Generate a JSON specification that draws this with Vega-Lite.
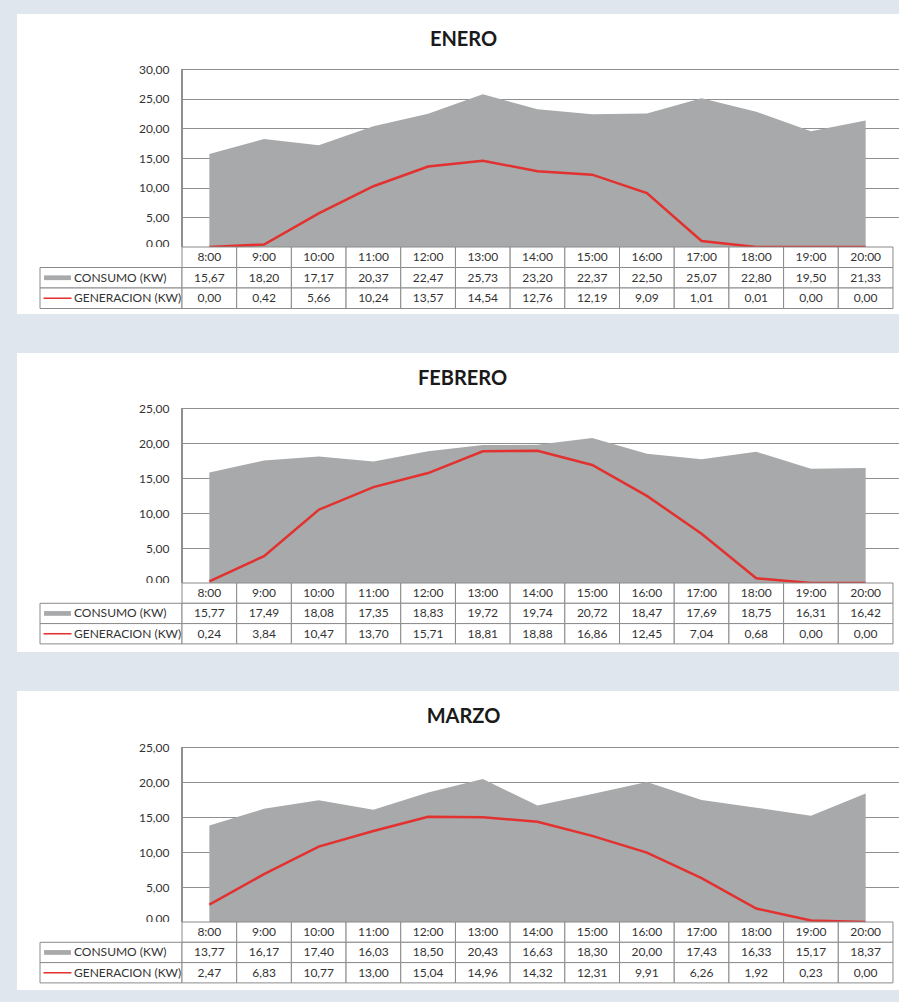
{
  "$schema": "https://vega.github.io/schema/vega-lite/v6.json",
  "background": "#dfe6ee",
  "padding": {"left": 17, "top": 14, "right": 0, "bottom": 12},
  "config": {
    "locale": {"number": {"decimal": ",", "thousands": ".", "grouping": [3], "currency": ["", " €"]}},
    "view": {"stroke": null},
    "font": "Lato"
  },
  "datasets": {
    "enero": [
      {"hora": "8:00", "consumo": 15.67, "generacion": 0.00},
      {"hora": "9:00", "consumo": 18.20, "generacion": 0.42},
      {"hora": "10:00", "consumo": 17.17, "generacion": 5.66},
      {"hora": "11:00", "consumo": 20.37, "generacion": 10.24},
      {"hora": "12:00", "consumo": 22.47, "generacion": 13.57},
      {"hora": "13:00", "consumo": 25.73, "generacion": 14.54},
      {"hora": "14:00", "consumo": 23.20, "generacion": 12.76},
      {"hora": "15:00", "consumo": 22.37, "generacion": 12.19},
      {"hora": "16:00", "consumo": 22.50, "generacion": 9.09},
      {"hora": "17:00", "consumo": 25.07, "generacion": 1.01},
      {"hora": "18:00", "consumo": 22.80, "generacion": 0.01},
      {"hora": "19:00", "consumo": 19.50, "generacion": 0.00},
      {"hora": "20:00", "consumo": 21.33, "generacion": 0.00}
    ],
    "febrero": [
      {"hora": "8:00", "consumo": 15.77, "generacion": 0.24},
      {"hora": "9:00", "consumo": 17.49, "generacion": 3.84},
      {"hora": "10:00", "consumo": 18.08, "generacion": 10.47},
      {"hora": "11:00", "consumo": 17.35, "generacion": 13.70},
      {"hora": "12:00", "consumo": 18.83, "generacion": 15.71},
      {"hora": "13:00", "consumo": 19.72, "generacion": 18.81},
      {"hora": "14:00", "consumo": 19.74, "generacion": 18.88},
      {"hora": "15:00", "consumo": 20.72, "generacion": 16.86},
      {"hora": "16:00", "consumo": 18.47, "generacion": 12.45},
      {"hora": "17:00", "consumo": 17.69, "generacion": 7.04},
      {"hora": "18:00", "consumo": 18.75, "generacion": 0.68},
      {"hora": "19:00", "consumo": 16.31, "generacion": 0.00},
      {"hora": "20:00", "consumo": 16.42, "generacion": 0.00}
    ],
    "marzo": [
      {"hora": "8:00", "consumo": 13.77, "generacion": 2.47},
      {"hora": "9:00", "consumo": 16.17, "generacion": 6.83},
      {"hora": "10:00", "consumo": 17.40, "generacion": 10.77},
      {"hora": "11:00", "consumo": 16.03, "generacion": 13.00},
      {"hora": "12:00", "consumo": 18.50, "generacion": 15.04},
      {"hora": "13:00", "consumo": 20.43, "generacion": 14.96},
      {"hora": "14:00", "consumo": 16.63, "generacion": 14.32},
      {"hora": "15:00", "consumo": 18.30, "generacion": 12.31},
      {"hora": "16:00", "consumo": 20.00, "generacion": 9.91},
      {"hora": "17:00", "consumo": 17.43, "generacion": 6.26},
      {"hora": "18:00", "consumo": 16.33, "generacion": 1.92},
      {"hora": "19:00", "consumo": 15.17, "generacion": 0.23},
      {"hora": "20:00", "consumo": 18.37, "generacion": 0.00}
    ],
    "leyenda": [
      {"k": "consumo", "label": "CONSUMO (KW)"},
      {"k": "generacion", "label": "GENERACION (KW)"}
    ]
  },
  "spacing": 39,
  "resolve": {"scale": {"x": "independent", "y": "independent", "color": "independent", "shape": "independent"}},
  "vconcat": [
    {
      "columns": 2, "spacing": 0, "bounds": "flush", "align": "each",
      "resolve": {"scale": {"x": "independent", "y": "independent", "color": "independent", "shape": "independent"}},
      "concat": [
        {"width": 165, "height": 233, "view": {"fill": "white", "stroke": null}, "data": {"values": []}, "mark": "point"},
        {
          "width": 717, "height": 233,
          "view": {"fill": "white", "stroke": null},
          "title": {"text": "ENERO", "frame": "group", "anchor": "middle", "orient": "top", "offset": -26, "dy": 20, "baseline": "middle", "dx": -77, "font": "Lato", "fontSize": 20, "fontWeight": "bold", "color": "#1a1a1a"},
          "data": {"name": "enero"},
          "encoding": {"x": {"field": "hora", "type": "ordinal", "sort": null, "bandPosition": 0.5, "scale": {"type": "band", "domain": ["8:00","9:00","10:00","11:00","12:00","13:00","14:00","15:00","16:00","17:00","18:00","19:00","20:00"], "paddingInner": 0, "paddingOuter": 0.055, "align": 0}, "axis": null}},
          "layer": [
            {"mark": {"type": "area", "color": "#a7a9aa", "opacity": 1}, "encoding": {"y": {"field": "consumo", "type": "quantitative", "scale": {"domain": [0, 39.27], "nice": false}, "axis": {"values": [0,5,10,15,20,25,30], "tickCount": 20, "format": ".2f", "title": null, "grid": true, "gridColor": "#8f8f8f", "gridWidth": 1, "domain": false, "ticks": false, "labelPadding": 13, "labelFont": "Lato", "labelFontSize": 12, "labelColor": "#333333", "labelBaseline": {"condition": {"test": "datum.value === 0", "value": "alphabetic"}, "value": "middle"}}}}},
            {"mark": {"type": "rule", "color": "#8f8f8f"}, "encoding": {"x": {"datum": "8:00", "bandPosition": 0}, "y": {"datum": 0}, "y2": {"datum": 30}}},
            {"mark": {"type": "line", "color": "#e2312f", "strokeWidth": 2.5}, "encoding": {"y": {"field": "generacion", "type": "quantitative"}}}
          ]
        },
        {
          "width": 165, "height": 67,
          "view": {"fill": "white", "stroke": null},
          "data": {"name": "leyenda"},
          "encoding": {
            "x": {"datum": "leg", "type": "nominal", "scale": {"type": "band", "domain": ["leg"], "paddingInner": 0, "paddingOuter": 0.081, "align": 1}, "axis": null},
            "y": {"field": "k", "type": "nominal", "scale": {"type": "band", "domain": ["h","consumo","generacion"], "paddingInner": 0, "paddingOuter": 0.134, "align": 0}, "axis": null}
          },
          "layer": [
            {"mark": {"type": "rect", "fill": "white", "stroke": "#8a8a8a", "strokeWidth": 1}},
            {"mark": {"type": "point", "filled": true, "opacity": 1, "size": 784, "xOffset": -53.5}, "encoding": {"shape": {"field": "k", "type": "nominal", "scale": {"domain": ["consumo","generacion"], "range": ["M-0.96,-0.17H0.96V0.17H-0.96Z", "M-1,-0.055H1V0.055H-1Z"]}, "legend": null}, "color": {"field": "k", "type": "nominal", "scale": {"domain": ["consumo","generacion"], "range": ["#a7a9aa", "#e2312f"]}, "legend": null}}},
            {"mark": {"type": "text", "align": "left", "xOffset": -37, "font": "Lato", "fontSize": 12, "color": "#333333"}, "encoding": {"text": {"field": "label"}}}
          ]
        },
        {
          "width": 717, "height": 67,
          "view": {"fill": "white", "stroke": null},
          "data": {"name": "enero"},
          "encoding": {"x": {"field": "hora", "type": "ordinal", "sort": null, "scale": {"type": "band", "domain": ["8:00","9:00","10:00","11:00","12:00","13:00","14:00","15:00","16:00","17:00","18:00","19:00","20:00"], "paddingInner": 0, "paddingOuter": 0.055, "align": 0}, "axis": null}},
          "layer": [
            {"mark": {"type": "rect", "fill": "white", "stroke": "#8a8a8a", "strokeWidth": 1}, "encoding": {"y": {"datum": "h", "type": "nominal", "scale": {"type": "band", "domain": ["h","consumo","generacion"], "paddingInner": 0, "paddingOuter": 0.134, "align": 0}, "axis": null}}},
            {"mark": {"type": "text", "font": "Lato", "fontSize": 12, "color": "#333333"}, "encoding": {"y": {"datum": "h", "type": "nominal"}, "text": {"field": "hora"}}},
            {"transform": [{"fold": ["consumo", "generacion"], "as": ["k", "v"]}], "layer": [
              {"mark": {"type": "rect", "fill": "white", "stroke": "#8a8a8a", "strokeWidth": 1}, "encoding": {"y": {"field": "k", "type": "nominal"}}},
              {"mark": {"type": "text", "font": "Lato", "fontSize": 12, "color": "#333333"}, "encoding": {"y": {"field": "k", "type": "nominal"}, "text": {"field": "v", "type": "quantitative", "format": ".2f"}}}
            ]}
          ]
        }
      ]
    },
    {
      "columns": 2, "spacing": 0, "bounds": "flush", "align": "each",
      "resolve": {"scale": {"x": "independent", "y": "independent", "color": "independent", "shape": "independent"}},
      "concat": [
        {"width": 165, "height": 230, "view": {"fill": "white", "stroke": null}, "data": {"values": []}, "mark": "point"},
        {
          "width": 717, "height": 230,
          "view": {"fill": "white", "stroke": null},
          "title": {"text": "FEBRERO", "frame": "group", "anchor": "middle", "orient": "top", "offset": -26, "dy": 20, "baseline": "middle", "dx": -78, "font": "Lato", "fontSize": 20, "fontWeight": "bold", "color": "#1a1a1a"},
          "data": {"name": "febrero"},
          "encoding": {"x": {"field": "hora", "type": "ordinal", "sort": null, "bandPosition": 0.5, "scale": {"type": "band", "domain": ["8:00","9:00","10:00","11:00","12:00","13:00","14:00","15:00","16:00","17:00","18:00","19:00","20:00"], "paddingInner": 0, "paddingOuter": 0.055, "align": 0}, "axis": null}},
          "layer": [
            {"mark": {"type": "area", "color": "#a7a9aa", "opacity": 1}, "encoding": {"y": {"field": "consumo", "type": "quantitative", "scale": {"domain": [0, 32.86], "nice": false}, "axis": {"values": [0,5,10,15,20,25], "tickCount": 20, "format": ".2f", "title": null, "grid": true, "gridColor": "#8f8f8f", "gridWidth": 1, "domain": false, "ticks": false, "labelPadding": 13, "labelFont": "Lato", "labelFontSize": 12, "labelColor": "#333333", "labelBaseline": {"condition": {"test": "datum.value === 0", "value": "alphabetic"}, "value": "middle"}}}}},
            {"mark": {"type": "rule", "color": "#8f8f8f"}, "encoding": {"x": {"datum": "8:00", "bandPosition": 0}, "y": {"datum": 0}, "y2": {"datum": 25}}},
            {"mark": {"type": "line", "color": "#e2312f", "strokeWidth": 2.5}, "encoding": {"y": {"field": "generacion", "type": "quantitative"}}}
          ]
        },
        {
          "width": 165, "height": 69,
          "view": {"fill": "white", "stroke": null},
          "data": {"name": "leyenda"},
          "encoding": {
            "x": {"datum": "leg", "type": "nominal", "scale": {"type": "band", "domain": ["leg"], "paddingInner": 0, "paddingOuter": 0.081, "align": 1}, "axis": null},
            "y": {"field": "k", "type": "nominal", "scale": {"type": "band", "domain": ["h","consumo","generacion"], "paddingInner": 0, "paddingOuter": 0.2, "align": 0}, "axis": null}
          },
          "layer": [
            {"mark": {"type": "rect", "fill": "white", "stroke": "#8a8a8a", "strokeWidth": 1}},
            {"mark": {"type": "point", "filled": true, "opacity": 1, "size": 784, "xOffset": -53.5}, "encoding": {"shape": {"field": "k", "type": "nominal", "scale": {"domain": ["consumo","generacion"], "range": ["M-0.96,-0.17H0.96V0.17H-0.96Z", "M-1,-0.055H1V0.055H-1Z"]}, "legend": null}, "color": {"field": "k", "type": "nominal", "scale": {"domain": ["consumo","generacion"], "range": ["#a7a9aa", "#e2312f"]}, "legend": null}}},
            {"mark": {"type": "text", "align": "left", "xOffset": -37, "font": "Lato", "fontSize": 12, "color": "#333333"}, "encoding": {"text": {"field": "label"}}}
          ]
        },
        {
          "width": 717, "height": 69,
          "view": {"fill": "white", "stroke": null},
          "data": {"name": "febrero"},
          "encoding": {"x": {"field": "hora", "type": "ordinal", "sort": null, "scale": {"type": "band", "domain": ["8:00","9:00","10:00","11:00","12:00","13:00","14:00","15:00","16:00","17:00","18:00","19:00","20:00"], "paddingInner": 0, "paddingOuter": 0.055, "align": 0}, "axis": null}},
          "layer": [
            {"mark": {"type": "rect", "fill": "white", "stroke": "#8a8a8a", "strokeWidth": 1}, "encoding": {"y": {"datum": "h", "type": "nominal", "scale": {"type": "band", "domain": ["h","consumo","generacion"], "paddingInner": 0, "paddingOuter": 0.2, "align": 0}, "axis": null}}},
            {"mark": {"type": "text", "font": "Lato", "fontSize": 12, "color": "#333333"}, "encoding": {"y": {"datum": "h", "type": "nominal"}, "text": {"field": "hora"}}},
            {"transform": [{"fold": ["consumo", "generacion"], "as": ["k", "v"]}], "layer": [
              {"mark": {"type": "rect", "fill": "white", "stroke": "#8a8a8a", "strokeWidth": 1}, "encoding": {"y": {"field": "k", "type": "nominal"}}},
              {"mark": {"type": "text", "font": "Lato", "fontSize": 12, "color": "#333333"}, "encoding": {"y": {"field": "k", "type": "nominal"}, "text": {"field": "v", "type": "quantitative", "format": ".2f"}}}
            ]}
          ]
        }
      ]
    },
    {
      "columns": 2, "spacing": 0, "bounds": "flush", "align": "each",
      "resolve": {"scale": {"x": "independent", "y": "independent", "color": "independent", "shape": "independent"}},
      "concat": [
        {"width": 165, "height": 231, "view": {"fill": "white", "stroke": null}, "data": {"values": []}, "mark": "point"},
        {
          "width": 717, "height": 231,
          "view": {"fill": "white", "stroke": null},
          "title": {"text": "MARZO", "frame": "group", "anchor": "middle", "orient": "top", "offset": -26, "dy": 20, "baseline": "middle", "dx": -77, "font": "Lato", "fontSize": 20, "fontWeight": "bold", "color": "#1a1a1a"},
          "data": {"name": "marzo"},
          "encoding": {"x": {"field": "hora", "type": "ordinal", "sort": null, "bandPosition": 0.5, "scale": {"type": "band", "domain": ["8:00","9:00","10:00","11:00","12:00","13:00","14:00","15:00","16:00","17:00","18:00","19:00","20:00"], "paddingInner": 0, "paddingOuter": 0.055, "align": 0}, "axis": null}},
          "layer": [
            {"mark": {"type": "area", "color": "#a7a9aa", "opacity": 1}, "encoding": {"y": {"field": "consumo", "type": "quantitative", "scale": {"domain": [0, 33.0], "nice": false}, "axis": {"values": [0,5,10,15,20,25], "tickCount": 20, "format": ".2f", "title": null, "grid": true, "gridColor": "#8f8f8f", "gridWidth": 1, "domain": false, "ticks": false, "labelPadding": 13, "labelFont": "Lato", "labelFontSize": 12, "labelColor": "#333333", "labelBaseline": {"condition": {"test": "datum.value === 0", "value": "alphabetic"}, "value": "middle"}}}}},
            {"mark": {"type": "rule", "color": "#8f8f8f"}, "encoding": {"x": {"datum": "8:00", "bandPosition": 0}, "y": {"datum": 0}, "y2": {"datum": 25}}},
            {"mark": {"type": "line", "color": "#e2312f", "strokeWidth": 2.5}, "encoding": {"y": {"field": "generacion", "type": "quantitative"}}}
          ]
        },
        {
          "width": 165, "height": 68,
          "view": {"fill": "white", "stroke": null},
          "data": {"name": "leyenda"},
          "encoding": {
            "x": {"datum": "leg", "type": "nominal", "scale": {"type": "band", "domain": ["leg"], "paddingInner": 0, "paddingOuter": 0.081, "align": 1}, "axis": null},
            "y": {"field": "k", "type": "nominal", "scale": {"type": "band", "domain": ["h","consumo","generacion"], "paddingInner": 0, "paddingOuter": 0.175, "align": 0}, "axis": null}
          },
          "layer": [
            {"mark": {"type": "rect", "fill": "white", "stroke": "#8a8a8a", "strokeWidth": 1}},
            {"mark": {"type": "point", "filled": true, "opacity": 1, "size": 784, "xOffset": -53.5}, "encoding": {"shape": {"field": "k", "type": "nominal", "scale": {"domain": ["consumo","generacion"], "range": ["M-0.96,-0.17H0.96V0.17H-0.96Z", "M-1,-0.055H1V0.055H-1Z"]}, "legend": null}, "color": {"field": "k", "type": "nominal", "scale": {"domain": ["consumo","generacion"], "range": ["#a7a9aa", "#e2312f"]}, "legend": null}}},
            {"mark": {"type": "text", "align": "left", "xOffset": -37, "font": "Lato", "fontSize": 12, "color": "#333333"}, "encoding": {"text": {"field": "label"}}}
          ]
        },
        {
          "width": 717, "height": 68,
          "view": {"fill": "white", "stroke": null},
          "data": {"name": "marzo"},
          "encoding": {"x": {"field": "hora", "type": "ordinal", "sort": null, "scale": {"type": "band", "domain": ["8:00","9:00","10:00","11:00","12:00","13:00","14:00","15:00","16:00","17:00","18:00","19:00","20:00"], "paddingInner": 0, "paddingOuter": 0.055, "align": 0}, "axis": null}},
          "layer": [
            {"mark": {"type": "rect", "fill": "white", "stroke": "#8a8a8a", "strokeWidth": 1}, "encoding": {"y": {"datum": "h", "type": "nominal", "scale": {"type": "band", "domain": ["h","consumo","generacion"], "paddingInner": 0, "paddingOuter": 0.175, "align": 0}, "axis": null}}},
            {"mark": {"type": "text", "font": "Lato", "fontSize": 12, "color": "#333333"}, "encoding": {"y": {"datum": "h", "type": "nominal"}, "text": {"field": "hora"}}},
            {"transform": [{"fold": ["consumo", "generacion"], "as": ["k", "v"]}], "layer": [
              {"mark": {"type": "rect", "fill": "white", "stroke": "#8a8a8a", "strokeWidth": 1}, "encoding": {"y": {"field": "k", "type": "nominal"}}},
              {"mark": {"type": "text", "font": "Lato", "fontSize": 12, "color": "#333333"}, "encoding": {"y": {"field": "k", "type": "nominal"}, "text": {"field": "v", "type": "quantitative", "format": ".2f"}}}
            ]}
          ]
        }
      ]
    }
  ]
}
